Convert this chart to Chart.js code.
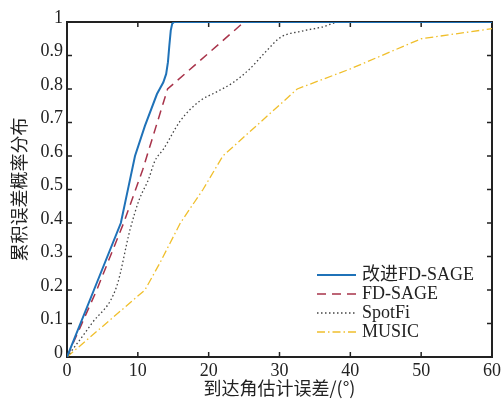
<!DOCTYPE html>
<html>
<head>
<meta charset="utf-8">
<script src="https://cdn.jsdelivr.net/npm/chart.js@4.4.0/dist/chart.umd.min.js"></script>
<style>
  body { margin: 0; background: #fff; }
  canvas { display: block; }
</style>
</head>
<body>
<canvas id="myChart" width="504" height="400"></canvas>
<script>
// error (deg) and CDF values
const improvedErr = [0, 3.8, 7.6, 8.7, 9.6, 11, 12.7, 13.6, 14.0, 14.25, 14.45, 14.65, 14.85, 15.1, 60];
const improvedCdf = [0, 0.2, 0.4, 0.51, 0.6, 0.69, 0.785, 0.82, 0.845, 0.88, 0.93, 0.975, 0.995, 1, 1];

const fdsageErr = [0, 4.2, 8, 10.7, 14.2, 25, 60];
const fdsageCdf = [0, 0.2, 0.4, 0.56, 0.8, 1, 1];

const spotfiErr = [0, 3.5, 7, 8.9, 10.2, 11.5, 12.4, 13.6, 16, 18.8, 21, 23.5, 25.8, 28, 30.2, 33, 36, 38.5, 60];
const spotfiCdf = [0, 0.1, 0.21, 0.38, 0.47, 0.53, 0.585, 0.62, 0.705, 0.765, 0.79, 0.82, 0.86, 0.91, 0.955, 0.972, 0.985, 1, 1];

const musicErr = [0, 11, 13.1, 16, 19.2, 22, 32.5, 40, 50, 60];
const musicCdf = [0, 0.2, 0.28, 0.4, 0.5, 0.6, 0.8, 0.86, 0.95, 0.98];

const seriesNames = ['改进FD-SAGE', 'FD-SAGE', 'SpotFi', 'MUSIC'];
const xTicks = [0, 10, 20, 30, 40, 50, 60];
const yTicks = [0, 0.1, 0.2, 0.3, 0.4, 0.5, 0.6, 0.7, 0.8, 0.9, 1];

const TICK_FONT = { family: '"Liberation Serif", "Times New Roman", serif', size: 18 };
const TITLE_FONT = { family: '"Noto Sans CJK SC", sans-serif', size: 18, lineHeight: 1.2 };

function pts(xs, ys) {
  return xs.map((x, i) => ({ x: x, y: ys[i] }));
}

// box around the plot with inward ticks on all four sides
const boxPlugin = {
  id: 'box',
  beforeDatasetsDraw(chart) {
    const { ctx, chartArea: a, scales } = chart;
    ctx.save();
    ctx.strokeStyle = '#222';
    ctx.lineWidth = 2;
    ctx.strokeRect(a.left, a.top, a.right - a.left, a.bottom - a.top);
    ctx.lineWidth = 1.5;
    ctx.beginPath();
    xTicks.forEach(v => {
      const px = scales.x.getPixelForValue(v);
      ctx.moveTo(px, a.bottom); ctx.lineTo(px, a.bottom - 5);
      ctx.moveTo(px, a.top); ctx.lineTo(px, a.top + 5);
    });
    yTicks.forEach(v => {
      const py = scales.y.getPixelForValue(v);
      ctx.moveTo(a.left, py); ctx.lineTo(a.left + 5, py);
      ctx.moveTo(a.right, py); ctx.lineTo(a.right - 5, py);
    });
    ctx.stroke();
    ctx.restore();
  }
};

// legend drawn inside the plot, lower right
const legendPlugin = {
  id: 'innerLegend',
  afterDatasetsDraw(chart) {
    const ctx = chart.ctx;
    ctx.save();
    chart.data.datasets.forEach((ds, i) => {
      const y = 275 + i * 19;
      ctx.strokeStyle = ds.borderColor;
      ctx.lineWidth = ds.borderWidth;
      ctx.setLineDash(ds.borderDash || []);
      ctx.beginPath();
      ctx.moveTo(317, y);
      ctx.lineTo(356, y);
      ctx.stroke();
      ctx.setLineDash([]);
      ctx.fillStyle = '#222';
      ctx.font = '18px "Liberation Serif", "Noto Sans CJK SC", serif';
      ctx.textBaseline = 'middle';
      ctx.fillText(ds.label, 362, y);
    });
    ctx.restore();
  }
};

const ctx = document.getElementById('myChart').getContext('2d');
const myChart = new Chart(ctx, {
  type: 'line',
  data: {
    datasets: [
      {
        label: seriesNames[0],
        data: pts(improvedErr, improvedCdf),
        borderColor: '#1f72b8',
        borderWidth: 2,
      },
      {
        label: seriesNames[1],
        data: pts(fdsageErr, fdsageCdf),
        borderColor: '#a8334a',
        borderWidth: 1.5,
        borderDash: [9, 6],
      },
      {
        label: seriesNames[2],
        data: pts(spotfiErr, spotfiCdf),
        borderColor: '#444',
        borderWidth: 1.3,
        borderDash: [1.5, 2.5],
        cubicInterpolationMode: 'monotone',
      },
      {
        label: seriesNames[3],
        data: pts(musicErr, musicCdf),
        borderColor: '#f0bf2c',
        borderWidth: 1.3,
        borderDash: [8, 3, 1.5, 3],
      },
    ]
  },
  options: {
    responsive: false,
    animation: false,
    layout: { padding: { top: 22, right: 11, left: 0, bottom: 0 } },
    elements: { point: { radius: 0 }, line: { fill: false } },
    plugins: {
      legend: { display: false },
      tooltip: { enabled: false },
    },
    scales: {
      x: {
        type: 'linear',
        min: 0,
        max: 60,
        border: { display: false },
        grid: { display: false, drawTicks: false },
        afterBuildTicks: s => { s.ticks = xTicks.map(v => ({ value: v })); },
        afterFit: s => { s.height = 43; },
        ticks: { font: TICK_FONT, color: '#222', padding: 3, maxRotation: 0 },
        title: {
          display: true,
          text: '到达角估计误差/(°)',
          font: TITLE_FONT,
          color: '#222',
          padding: { top: 0, bottom: 1 },
        },
      },
      y: {
        type: 'linear',
        min: 0,
        max: 1,
        border: { display: false },
        grid: { display: false, drawTicks: false },
        afterBuildTicks: s => { s.ticks = yTicks.map(v => ({ value: v })); },
        afterFit: s => { s.width = 67; },
        ticks: {
          font: TICK_FONT,
          color: '#222',
          padding: 4,
          labelOffset: -4,
          callback: v => String(Math.round(v * 10) / 10),
        },
        title: {
          display: true,
          text: '累积误差概率分布',
          font: TITLE_FONT,
          color: '#222',
          padding: { top: 8, bottom: 0 },
        },
      },
    },
  },
  plugins: [boxPlugin, legendPlugin],
});
</script>
</body>
</html>
